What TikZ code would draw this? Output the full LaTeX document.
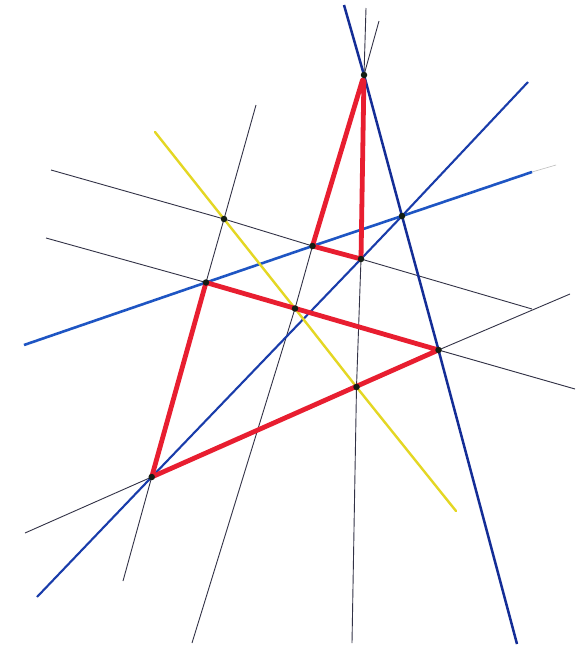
\documentclass[tikz,border=0pt]{standalone}
\usetikzlibrary{calc}
\begin{document}
\begin{tikzpicture}[x=1pt,y=-1pt,
  thinline/.style={draw={rgb,255:red,50;green,50;blue,70},line width=0.9pt},
  bluedark/.style={draw={rgb,255:red,20;green,45;blue,150},line width=2.5pt},
  bluemid/.style={draw={rgb,255:red,25;green,60;blue,170},line width=2.1pt},
  bluelight/.style={draw={rgb,255:red,30;green,85;blue,195},line width=2.6pt},
  yellowline/.style={draw={rgb,255:red,228;green,215;blue,35},line width=2.4pt,line cap=round},
  redline/.style={draw={rgb,255:red,232;green,30;blue,48},line width=4.8pt,line join=round},
  dotnode/.style={circle,fill={rgb,255:red,20;green,30;blue,20},inner sep=0pt,minimum size=6.5pt}]
\useasboundingbox (0,0) rectangle (581,648);
\fill[white] (0,0) rectangle (581,648);
% intersection points
\coordinate (A0) at (364,75);
\coordinate (P1) at (224,219);
\coordinate (P2) at (402,216);
\coordinate (P3) at (312.5,246);
\coordinate (P4) at (361,259);
\coordinate (P5) at (206,282.5);
\coordinate (P6) at (295,308.5);
\coordinate (P7) at (438.5,350);
\coordinate (P8) at (356.5,387);
\coordinate (P9) at (151.7,477);
% free ends
\coordinate (La1) at (51,170);   \coordinate (La2) at (532,309);
\coordinate (Lb1) at (46,238);   \coordinate (Lb2) at (575,389);
\coordinate (Lc1) at (25,533);   \coordinate (Lc2) at (570,294);
\coordinate (Ld1) at (256,105);  \coordinate (Ld2) at (123,581);
\coordinate (Le1) at (379,21);   \coordinate (Le2) at (192,643);
\coordinate (Lf1) at (366,8);    \coordinate (Lf2) at (352,643);
\coordinate (B11) at (344,5);    \coordinate (B12) at (517,644);
\coordinate (B21) at (528,82);   \coordinate (B22) at (37,597);
\coordinate (B31) at (24,345);   \coordinate (B32) at (532,172);
\coordinate (B33) at (556,165);
\coordinate (Y1) at (155,132);   \coordinate (Y2) at (456,511);
% thin black lines
\draw[thinline] (La1) -- (P1) -- (P3) -- (P4) -- (La2);
\draw[thinline] (Lb1) -- (P5) -- (P6) -- (P7) -- (Lb2);
\draw[thinline] (Lc1) -- (P9) -- (P8) -- (P7) -- (Lc2);
\draw[thinline] (Ld1) -- (P1) -- (P5) -- (P9) -- (Ld2);
\draw[thinline] (Le1) -- (A0) -- (P3) -- (P6) -- (Le2);
\draw[thinline] (Lf1) -- (A0) -- (P4) -- (P8) -- (Lf2);
\draw[draw={rgb,255:red,190;green,190;blue,190},line width=0.6pt] (B32) -- (B33);
% blue lines
\draw[bluedark] (B11) -- (A0) -- (P2) -- (P7) -- (B12);
\draw[bluemid] (B21) -- (P2) -- (P4) -- (P9) -- (B22);
\draw[bluelight] (B31) -- (P5) -- (P3) -- (P2) -- (B32);
% yellow line
\draw[yellowline] (Y1) -- (P1) -- (P6) -- (P8) -- (Y2);
% red triangles
\draw[redline] (P5) -- (P7) -- (P9) -- cycle;
\draw[redline] ($(A0)!0.03!(P3)$) -- (P3) -- (P4) -- ($(A0)!0.03!(P4)$) -- cycle;
% dots
\foreach \p in {A0,P1,P2,P3,P4,P5,P6,P7,P8,P9}
  \node[dotnode] (d\p) at (\p) {};
\end{tikzpicture}
\end{document}
